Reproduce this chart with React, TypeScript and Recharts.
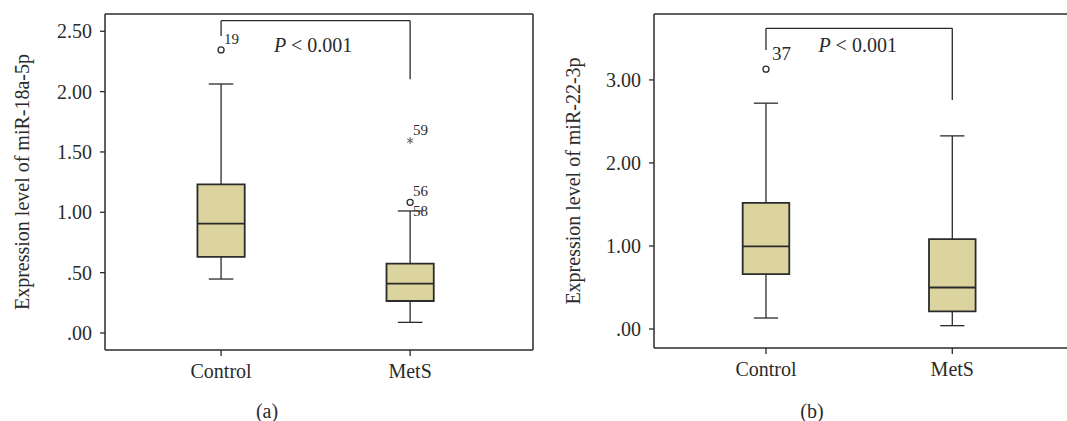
import React from "react";
import {
  ComposedChart,
  XAxis,
  YAxis,
  Scatter,
  ReferenceArea,
  ReferenceLine,
} from "recharts";

const groups = ["Control", "MetS"];
const groupX = [1, 2];

// (a) miR-18a-5p
const aLow = [0.447, 0.088];
const aQ1 = [0.63, 0.265];
const aMedian = [0.906, 0.409];
const aQ3 = [1.232, 0.574];
const aHigh = [2.063, 1.011];
const aTicks = [0, 0.5, 1, 1.5, 2, 2.5];
const aOutliers = [
  { x: 1, y: 2.345, label: "19", mark: "circle" },
  { x: 2, y: 1.594, label: "59", mark: "star" },
  { x: 2, y: 1.083, label: "56", mark: "circle" },
  { x: 2, y: 1.011, label: "58", mark: "none" },
];

// (b) miR-22-3p
const bLow = [0.132, 0.04];
const bQ1 = [0.662, 0.212];
const bMedian = [0.994, 0.5];
const bQ3 = [1.52, 1.083];
const bHigh = [2.72, 2.326];
const bTicks = [0, 1, 2, 3];
const bOutliers = [{ x: 1, y: 3.13, label: "37", mark: "circle" }];

const FONT = '"Liberation Serif", "Times New Roman", serif';
const INK = "#2b2b2b";
const BOX_FILL = "#dcd49f";

const fmtTick = (v: number) => {
  const s = v.toFixed(2);
  return v < 1 ? s.replace(/^0/, "") : s;
};

type Outlier = { x: number; y: number; label: string; mark: string };

type PanelProps = {
  left: number;
  width: number;
  yAxisWidth: number;
  marginRight: number;
  marginBottom: number;
  rightBorder: boolean;
  xDomain: [number, number];
  yDomain: [number, number];
  yTicks: number[];
  yLabel: string;
  yLabelX: number;
  low: number[];
  q1: number[];
  median: number[];
  q3: number[];
  high: number[];
  outliers: Outlier[];
  bracketTop: number;
  bracketLeftEnd: number;
  bracketRightEnd: number;
  pAt: { x: number; y: number };
  labelSize: number;
  labelDx: number;
  labelDy: number;
};

function Panel(p: PanelProps) {
  const half = 0.125;
  const cap = 0.065;

  const renderOutlier = (props: any) => {
    const { cx, cy, payload } = props;
    const dy = payload.mark === "none" ? 0 : p.labelDy;
    return (
      <g>
        {payload.mark === "circle" && (
          <circle cx={cx} cy={cy} r={3} fill="#fff" stroke={INK} strokeWidth={1.3} />
        )}
        {payload.mark === "star" && (
          <g stroke="#555" strokeWidth={1}>
            <line x1={cx} y1={cy - 3.5} x2={cx} y2={cy + 3.5} />
            <line x1={cx - 3} y1={cy - 1.8} x2={cx + 3} y2={cy + 1.8} />
            <line x1={cx - 3} y1={cy + 1.8} x2={cx + 3} y2={cy - 1.8} />
          </g>
        )}
        <text
          x={cx + p.labelDx}
          y={cy + dy}
          dominantBaseline="central"
          fontFamily={FONT}
          fontSize={payload.mark === "circle" && p.labelSize > 15 ? p.labelSize : 15}
          fill={INK}
        >
          {payload.label}
        </text>
      </g>
    );
  };

  const renderP = (props: any) => {
    const { cx, cy } = props;
    return (
      <text
        x={cx}
        y={cy}
        textAnchor="middle"
        dominantBaseline="central"
        fontFamily={FONT}
        fontSize={20}
        fill={INK}
      >
        <tspan fontStyle="italic">P</tspan>
        {" < 0.001"}
      </text>
    );
  };

  return (
    <div style={{ position: "absolute", left: p.left, top: 0, width: p.width, height: 421 }}>
      <ComposedChart
        width={p.width}
        height={421}
        margin={{ top: 14, right: p.marginRight, bottom: p.marginBottom, left: 0 }}
      >
        <XAxis
          type="number"
          dataKey="x"
          domain={p.xDomain}
          ticks={groupX}
          allowDataOverflow
          tickFormatter={(v: number) => groups[v - 1]}
          tick={{ fill: INK, fontSize: 20, fontFamily: FONT }}
          tickSize={6}
          tickMargin={8}
          height={40}
          axisLine={{ stroke: INK, strokeWidth: 1.5 }}
          tickLine={{ stroke: INK, strokeWidth: 1.3 }}
        />
        <YAxis
          type="number"
          domain={p.yDomain}
          ticks={p.yTicks}
          allowDataOverflow
          tickFormatter={fmtTick}
          tick={{ fill: INK, fontSize: 20, fontFamily: FONT }}
          tickSize={5}
          tickMargin={8}
          width={p.yAxisWidth}
          axisLine={{ stroke: INK, strokeWidth: 1.5 }}
          tickLine={{ stroke: INK, strokeWidth: 1.3 }}
          label={{
            content: (lp: any) => {
              const vb = lp.viewBox || { y: 14, height: 336 };
              const cy = vb.y + vb.height / 2;
              return (
                <text
                  x={p.yLabelX}
                  y={cy}
                  transform={`rotate(-90, ${p.yLabelX}, ${cy})`}
                  textAnchor="middle"
                  dominantBaseline="central"
                  fontFamily={FONT}
                  fontSize={20}
                  fill={INK}
                >
                  {p.yLabel}
                </text>
              );
            },
          }}
        />
        {/* frame: top edge, plus right edge where the panel shows one */}
        <ReferenceLine y={p.yDomain[1]} stroke={INK} strokeWidth={1.5} />
        {p.rightBorder && <ReferenceLine x={p.xDomain[1]} stroke={INK} strokeWidth={1.5} />}
        {groupX.map((gx, i) => (
          <React.Fragment key={gx}>
            <ReferenceLine
              segment={[{ x: gx, y: p.q3[i] }, { x: gx, y: p.high[i] }]}
              stroke={INK}
              strokeWidth={1.3}
            />
            <ReferenceLine
              segment={[{ x: gx, y: p.low[i] }, { x: gx, y: p.q1[i] }]}
              stroke={INK}
              strokeWidth={1.3}
            />
            <ReferenceLine
              segment={[{ x: gx - cap, y: p.high[i] }, { x: gx + cap, y: p.high[i] }]}
              stroke={INK}
              strokeWidth={1.3}
            />
            <ReferenceLine
              segment={[{ x: gx - cap, y: p.low[i] }, { x: gx + cap, y: p.low[i] }]}
              stroke={INK}
              strokeWidth={1.3}
            />
            <ReferenceArea
              x1={gx - half}
              x2={gx + half}
              y1={p.q1[i]}
              y2={p.q3[i]}
              fill={BOX_FILL}
              fillOpacity={1}
              stroke={INK}
              strokeWidth={1.8}
            />
            <ReferenceLine
              segment={[{ x: gx - half, y: p.median[i] }, { x: gx + half, y: p.median[i] }]}
              stroke={INK}
              strokeWidth={1.8}
            />
          </React.Fragment>
        ))}
        <ReferenceLine
          segment={[{ x: 1, y: p.bracketLeftEnd }, { x: 1, y: p.bracketTop }]}
          stroke={INK}
          strokeWidth={1.3}
        />
        <ReferenceLine
          segment={[{ x: 1, y: p.bracketTop }, { x: 2, y: p.bracketTop }]}
          stroke={INK}
          strokeWidth={1.3}
        />
        <ReferenceLine
          segment={[{ x: 2, y: p.bracketTop }, { x: 2, y: p.bracketRightEnd }]}
          stroke={INK}
          strokeWidth={1.3}
        />
        <Scatter data={p.outliers} dataKey="y" shape={renderOutlier} isAnimationActive={false} />
        <Scatter data={[p.pAt]} dataKey="y" shape={renderP} isAnimationActive={false} />
      </ComposedChart>
    </div>
  );
}

const captionStyle = (cx: number): React.CSSProperties => ({
  position: "absolute",
  left: cx - 30,
  top: 401,
  width: 60,
  textAlign: "center",
  fontFamily: FONT,
  fontSize: 20,
  lineHeight: "20px",
  color: INK,
});

export default function App() {
  return (
    <div
      style={{
        position: "absolute",
        left: 0,
        top: 0,
        width: 1067,
        height: 421,
        overflow: "hidden",
        background: "#fff",
      }}
    >
      <Panel
        left={0}
        width={540}
        yAxisWidth={105}
        marginRight={7}
        marginBottom={31}
        rightBorder
        xDomain={[0.386, 2.65]}
        yDomain={[-0.141, 2.643]}
        yTicks={aTicks}
        yLabel="Expression level of miR-18a-5p"
        yLabelX={22}
        low={aLow}
        q1={aQ1}
        median={aMedian}
        q3={aQ3}
        high={aHigh}
        outliers={aOutliers}
        bracketTop={2.588}
        bracketLeftEnd={2.461}
        bracketRightEnd={2.102}
        pAt={{ x: 1.487, y: 2.386 }}
        labelSize={15}
        labelDx={3}
        labelDy={-11}
      />
      <Panel
        left={527}
        width={560}
        yAxisWidth={127}
        marginRight={0}
        marginBottom={33}
        rightBorder={false}
        xDomain={[0.399, 2.723]}
        yDomain={[-0.229, 3.794]}
        yTicks={bTicks}
        yLabel="Expression level of miR-22-3p"
        yLabelX={46}
        low={bLow}
        q1={bQ1}
        median={bMedian}
        q3={bQ3}
        high={bHigh}
        outliers={bOutliers}
        bracketTop={3.622}
        bracketLeftEnd={3.361}
        bracketRightEnd={2.759}
        pAt={{ x: 1.492, y: 3.42 }}
        labelSize={19}
        labelDx={6}
        labelDy={-16}
      />
      <div style={captionStyle(267)}>(a)</div>
      <div style={captionStyle(812)}>(b)</div>
    </div>
  );
}
